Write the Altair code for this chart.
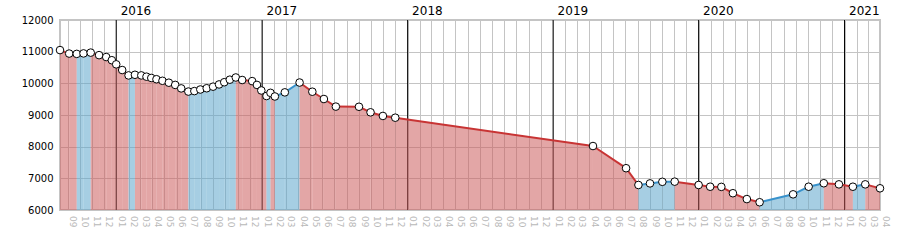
import altair as alt
import pandas as pd

dates = [
    "2015-08-13", "2015-09-05", "2015-09-24", "2015-10-11", "2015-10-29", "2015-11-19", "2015-12-07", "2015-12-21",
    "2016-01-01", "2016-01-16", "2016-02-01", "2016-02-17", "2016-03-04", "2016-03-17", "2016-03-29", "2016-04-11",
    "2016-04-26", "2016-05-12", "2016-05-28", "2016-06-12", "2016-06-30", "2016-07-15", "2016-07-30", "2016-08-15",
    "2016-08-31", "2016-09-15", "2016-09-28", "2016-10-12", "2016-10-27", "2016-11-12", "2016-12-07", "2016-12-19",
    "2016-12-30", "2017-01-12", "2017-01-22", "2017-02-02", "2017-02-27", "2017-04-05", "2017-05-07", "2017-06-05",
    "2017-07-05", "2017-09-01", "2017-09-30", "2017-10-31", "2017-12-01", "2019-04-11", "2019-07-03", "2019-08-03",
    "2019-09-01", "2019-10-02", "2019-11-02", "2020-01-01", "2020-01-30", "2020-02-27", "2020-03-27", "2020-05-01",
    "2020-06-02", "2020-08-25", "2020-10-03", "2020-11-10", "2020-12-18", "2021-01-22", "2021-02-22", "2021-03-31",
]
weights = [
    11050, 10940, 10930, 10945, 10970, 10890, 10830, 10730,
    10600, 10420, 10250, 10270, 10250, 10210, 10170, 10130,
    10080, 10020, 9950, 9840, 9740, 9755, 9805, 9845,
    9895, 9965, 10035, 10115, 10185, 10105, 10070, 9950,
    9775, 9600, 9700, 9585, 9715, 10025, 9735, 9505,
    9265, 9260, 9085, 8970, 8915, 8020, 7320, 6790,
    6840, 6890, 6895, 6790, 6735, 6730, 6530, 6345,
    6245, 6495, 6735, 6845, 6810, 6735, 6810, 6685,
]
year_starts = ["2016-01-01", "2017-01-01", "2018-01-01", "2019-01-01", "2020-01-01", "2021-01-01"]
y_ticks = [6000, 7000, 8000, 9000, 10000, 11000, 12000]
month_first = "2015-09"
month_last = "2021-04"

# segments coloured by direction
rows = []
for i in range(len(dates) - 1):
    d = "down" if weights[i + 1] <= weights[i] else "up"
    rows.append({"seg": i, "date": dates[i], "w": weights[i], "dir": d})
    rows.append({"seg": i, "date": dates[i + 1], "w": weights[i + 1], "dir": d})
seg_df = pd.DataFrame(rows)
seg_df["date"] = pd.to_datetime(seg_df["date"])

pts_df = pd.DataFrame({"date": pd.to_datetime(dates), "w": weights})
years_df = pd.DataFrame({"date": pd.to_datetime(year_starts)})

months = pd.date_range(month_first + "-01", month_last + "-01", freq="MS")
months_lab = pd.DataFrame({"date": months + pd.Timedelta(days=14), "lab": months.strftime("%m")})
grid_vals = [alt.DateTime(year=m.year, month=m.month, date=1) for m in months if m <= pd.Timestamp("2021-03-01")]

X = alt.X(
    "date:T",
    scale=alt.Scale(domain=[alt.DateTime(year=2015, month=8, date=13),
                            alt.DateTime(year=2021, month=3, date=31)], nice=False),
    axis=alt.Axis(
        orient="top", values=grid_vals, grid=True, gridColor="#c4c4c4", gridWidth=1,
        ticks=False, domain=False, title=None,
        labelExpr="month(datum.value) == 0 ? timeFormat(datum.value, '%Y') : ''",
        labelAlign="left", labelOffset=4, labelPadding=3, labelFontSize=12,
        labelColor="black", labelOverlap=False, labelFlush=False, labelFont="DejaVu Sans",
    ),
)
Y = alt.Y(
    "w:Q",
    scale=alt.Scale(domain=[6000, 12000], nice=False, zero=False),
    axis=alt.Axis(values=y_ticks, format="d", grid=True, gridColor="#c4c4c4", domain=False, ticks=False,
                  labelPadding=7, labelFontSize=10, labelColor="black", title=None,
                  labelFont="DejaVu Sans"),
)

years = alt.Chart(years_df).mark_rule(color="black", strokeWidth=1).encode(x=X)

area = alt.Chart(seg_df).mark_area(opacity=0.55, clip=True).encode(
    x=X, y=Y, y2=alt.datum(6000), detail="seg:N",
    fill=alt.Fill("dir:N", scale=alt.Scale(domain=["down", "up"], range=["#cc5d5d", "#5da6cc"]), legend=None),
)

line = alt.Chart(seg_df).mark_line(strokeWidth=2, clip=True).encode(
    x=X, y=Y, detail="seg:N",
    stroke=alt.Stroke("dir:N", scale=alt.Scale(domain=["down", "up"], range=["#c83434", "#3892cc"]), legend=None),
)

points = alt.Chart(pts_df).mark_point(shape="circle", filled=True, fill="white", stroke="black",
                                       strokeWidth=1, size=58, opacity=1).encode(x=X, y=Y)

mlabels = alt.Chart(months_lab).mark_text(angle=90, align="left", baseline="middle", fontSize=9,
                                           color="#b8b8b8", font="DejaVu Sans").encode(
    x=X, y=alt.value(196), text="lab:N")

chart = alt.layer(years, area, line, points, mlabels).properties(
    width=820, height=190,
    autosize=alt.AutoSizeParams(type="none"),
    padding={"left": 60, "top": 20, "right": 20, "bottom": 40},
).configure_view(stroke="#c4c4c4", strokeWidth=2)

chart.save("out.html", embed_options={"renderer": "svg", "actions": False})
